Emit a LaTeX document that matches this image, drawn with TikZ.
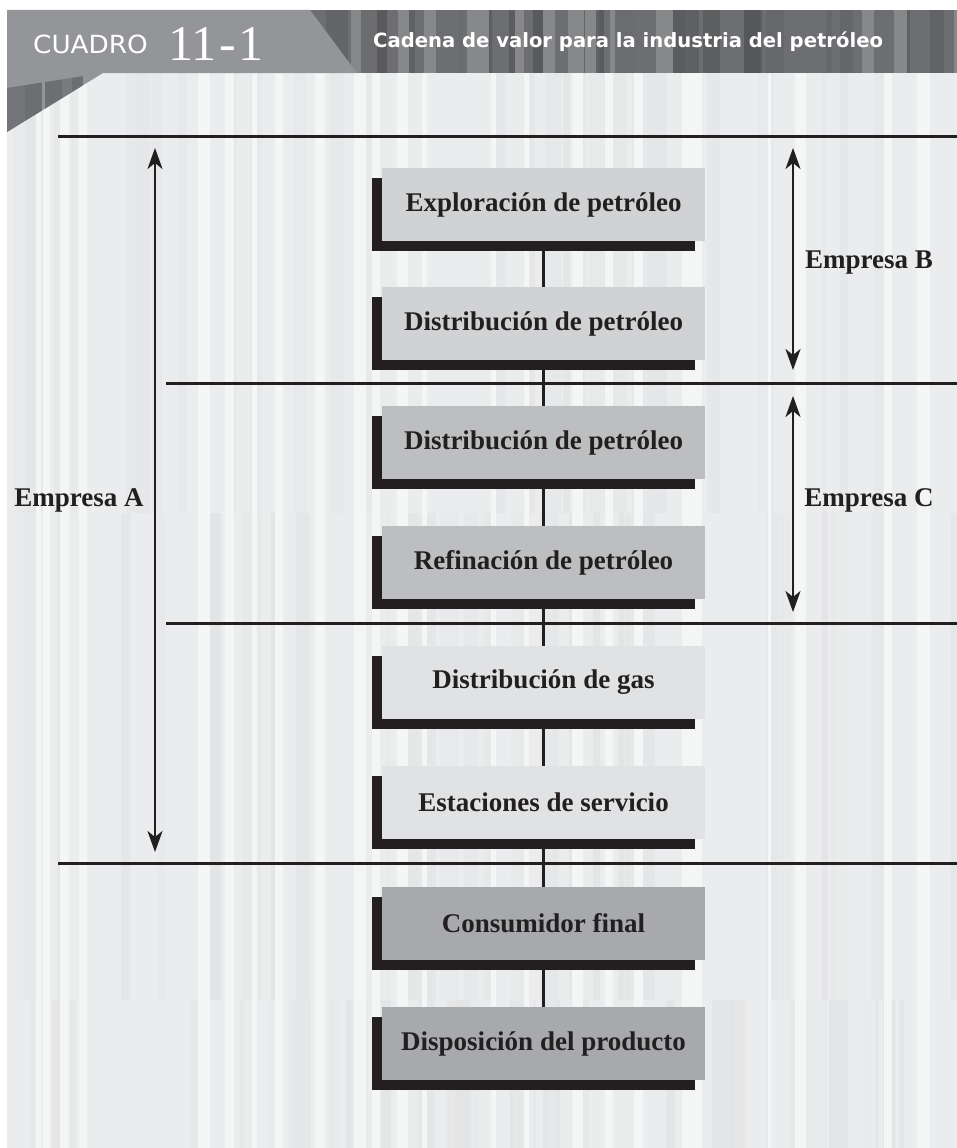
\documentclass[tikz,border=0pt]{standalone}
\usepackage{fontspec}
\setmainfont{Liberation Serif}
\newfontfamily\headsans{DejaVu Sans}

\usetikzlibrary{arrows.meta,shadows}

\definecolor{bodybg}{HTML}{EBECED}
\definecolor{headdark}{HTML}{6D6E71}
\definecolor{headtab}{HTML}{939598}
\definecolor{ink}{HTML}{231F20}
\definecolor{fillA}{HTML}{D1D2D4}
\definecolor{fillB}{HTML}{BCBEC0}
\definecolor{fillC}{HTML}{E1E2E3}
\definecolor{fillD}{HTML}{A7A9AC}

% vertical paper stripes inside a horizontal band:
% #1,#2 top/bottom, #3 count, #4 seed, #5 left limit, #6 max shade, #7 base colour
\newcommand\stripeband[7]{%
  \pgfmathsetseed{#4}%
  \foreach \k in {1,...,#3}{%
    \pgfmathsetmacro\sx{#5+rnd*(957-#5)}%
    \pgfmathsetmacro\sw{3+rnd*16}%
    \pgfmathsetmacro\pc{1+rnd*#6}%
    \fill[black!\pc!#7] (\sx,#1) rectangle (\sx+\sw,#2);
  }}

\tikzset{
  stage/.style={minimum width=323pt, minimum height=73pt, inner sep=0pt,
    font=\bfseries\fontsize{27}{27}\selectfont, text=ink,
    general shadow={fill=ink, shadow xshift=-10pt, shadow yshift=-10pt}},
  link/.style={draw=ink, line width=2.4pt},
  rule/.style={draw=ink, line width=3pt},
  span/.style={draw=ink, line width=2.4pt,
    {Stealth[length=21pt,width=15pt,inset=6pt]}-{Stealth[length=21pt,width=15pt,inset=6pt]}},
  firm/.style={font=\bfseries\fontsize{27}{27}\selectfont, text=ink, inner sep=0pt}
}

\begin{document}
\begin{tikzpicture}[x=1pt,y=-1pt]
\useasboundingbox (0,0) rectangle (957,1148);
\fill[white] (0,0) rectangle (957,1148);

% striped page body
\fill[bodybg] (7,73) rectangle (957,1148);
\begin{scope}
  \clip (7,73) rectangle (957,1148);
  \stripeband{73}{513}{40}{11}{7}{1.8}{bodybg}
  \stripeband{513}{1000}{45}{23}{7}{2.2}{bodybg}
  \stripeband{1000}{1148}{45}{37}{7}{2.6}{bodybg}
  \pgfmathsetseed{41}
  \foreach \k in {1,...,25}{%
    \pgfmathsetmacro\sx{7+rnd*950}%
    \pgfmathsetmacro\sw{3+rnd*10}%
    \fill[white!45!bodybg] (\sx,73) rectangle (\sx+\sw,1148);
  }
\end{scope}

% header band
\fill[headdark] (7,10) rectangle (957,73);
\begin{scope}
  \clip (7,10) rectangle (957,73);
  \stripeband{10}{73}{30}{5}{300}{20}{headdark}
  \pgfmathsetseed{9}
  \foreach \k in {1,...,14}{%
    \pgfmathsetmacro\sx{300+rnd*657}%
    \pgfmathsetmacro\sw{4+rnd*14}%
    \fill[white!18!headdark] (\sx,10) rectangle (\sx+\sw,73);
  }
\end{scope}
\fill[headtab] (7,10) -- (310,10) -- (357,73) -- (103,73) -- (7,132) -- cycle;
\begin{scope}
  \clip (7,88) -- (103,73) -- (7,132) -- cycle;
  \fill[headdark!85!headtab] (7,73) rectangle (25,132);
  \fill[headdark] (25,73) rectangle (42,132);
  \fill[headdark] (45,73) rectangle (62,132);
  \fill[headdark!70!headtab] (62,73) rectangle (72,132);
  \fill[headdark] (72,73) rectangle (83,132);
\end{scope}

\node[anchor=base west, inner sep=0pt, text=white,
  font=\headsans\fontsize{25}{25}\selectfont] (tag) at (33,53)
  {\scalebox{1.05}[1]{CUADRO}};
\node[anchor=base west, inner sep=0pt, text=white,
  font=\fontsize{50}{50}\selectfont] (num) at (168,60) {11\kern3pt-\kern3pt1};
\node[anchor=base west, inner sep=0pt, text=white,
  font=\headsans\bfseries\fontsize{19.6}{19.6}\selectfont] (title) at (373,48)
  {Cadena de valor para la industria del petróleo};

% boundaries between firms
\draw[rule] (58,136) -- (957,136);
\draw[rule] (166,383) -- (957,383);
\draw[rule] (166,623) -- (957,623);
\draw[rule] (58,863) -- (957,863);

% stages of the chain
\node[stage, fill=fillA] (s1) at (543.5,204.5) {Exploración de petróleo};
\node[stage, fill=fillA] (s2) at (543.5,323.5) {Distribución de petróleo};
\node[stage, fill=fillB] (s3) at (543.5,442.5) {Distribución de petróleo};
\node[stage, fill=fillB] (s4) at (543.5,562.5) {Refinación de petróleo};
\node[stage, fill=fillC] (s5) at (543.5,682.5) {Distribución de gas};
\node[stage, fill=fillC] (s6) at (543.5,802.5) {Estaciones de servicio};
\node[stage, fill=fillD] (s7) at (543.5,923.5) {Consumidor final};
\node[stage, fill=fillD] (s8) at (543.5,1043.5) {Disposición del producto};

\foreach \a/\b in {s1/s2,s2/s3,s3/s4,s4/s5,s5/s6,s6/s7,s7/s8}
  \draw[link] (\a.south) -- (\b.north);

% scope of each firm
\coordinate (aTop) at (155,148);
\coordinate (aBot) at (155,852);
\coordinate (bTop) at (793,148);
\coordinate (bBot) at (793,370);
\coordinate (cTop) at (793,396);
\coordinate (cBot) at (793,612);
\draw[span] (aTop) -- (aBot);
\draw[span] (bTop) -- (bBot);
\draw[span] (cTop) -- (cBot);

\node[firm] (fa) at (79,500) {Empresa A};
\node[firm] (fb) at (869,263) {Empresa B};
\node[firm] (fc) at (869,500) {Empresa C};
\end{tikzpicture}
\end{document}
